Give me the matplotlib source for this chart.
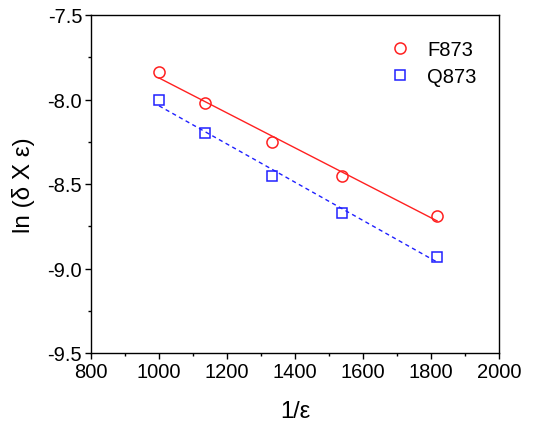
import numpy as np
import matplotlib
matplotlib.use("Agg")
import matplotlib.pyplot as plt
from matplotlib.ticker import MultipleLocator

x = [1000, 1136, 1333, 1538, 1818]
f873 = [-7.84, -8.02, -8.25, -8.45, -8.69]
q873 = [-8.00, -8.20, -8.45, -8.67, -8.93]

plt.rcParams['font.family'] = ['Liberation Sans', 'DejaVu Sans']

fig = plt.figure(figsize=(5.42, 4.27), dpi=100)
ax = fig.add_axes([91/542, 1-354/427, (499-91)/542, (354-16)/427])

xa = np.array(x, dtype=float)
xl = np.array([min(x), max(x)], dtype=float)
pf = np.polyfit(xa, f873, 1)
pq = np.polyfit(xa, q873, 1)
ax.plot(xl, np.polyval(pf, xl), '-', color='#ff2020', lw=1.0)
ax.plot(xl, np.polyval(pq, xl), '--', color='#2020ff', lw=1.0, dashes=(3, 2.5))
ax.plot(x, f873, 'o', ms=8, mfc='none', mec='#ff2020', mew=1.1, ls='none', label='F873')
ax.plot(x, q873, 's', ms=7, mfc='none', mec='#2020ff', mew=1.1, ls='none', label='Q873')

ax.set_xlim(800, 2000)
ax.set_ylim(-9.5, -7.5)
ax.xaxis.set_major_locator(MultipleLocator(200))
ax.xaxis.set_minor_locator(MultipleLocator(100))
ax.yaxis.set_major_locator(MultipleLocator(0.5))
ax.yaxis.set_minor_locator(MultipleLocator(0.25))
ax.yaxis.set_major_formatter(matplotlib.ticker.FormatStrFormatter('%.1f'))
ax.tick_params(which='both', direction='out', top=False, right=False, labelsize=14.5)
ax.tick_params(which='major', length=4.3, width=1, pad=2)
ax.tick_params(which='minor', length=2.3, width=1)
for s in ax.spines.values():
    s.set_linewidth(1.0)

ax.set_xlabel('1/ε', fontsize=17, labelpad=14)
ax.set_ylabel('ln (δ X ε)', fontsize=17.5, labelpad=9)

leg = ax.legend(loc='upper right', frameon=False, fontsize=14.5, handletextpad=0.85,
                handlelength=1.0, bbox_to_anchor=(0.99, 0.98), labelspacing=0.4)

fig.savefig('out.png', dpi=100)
